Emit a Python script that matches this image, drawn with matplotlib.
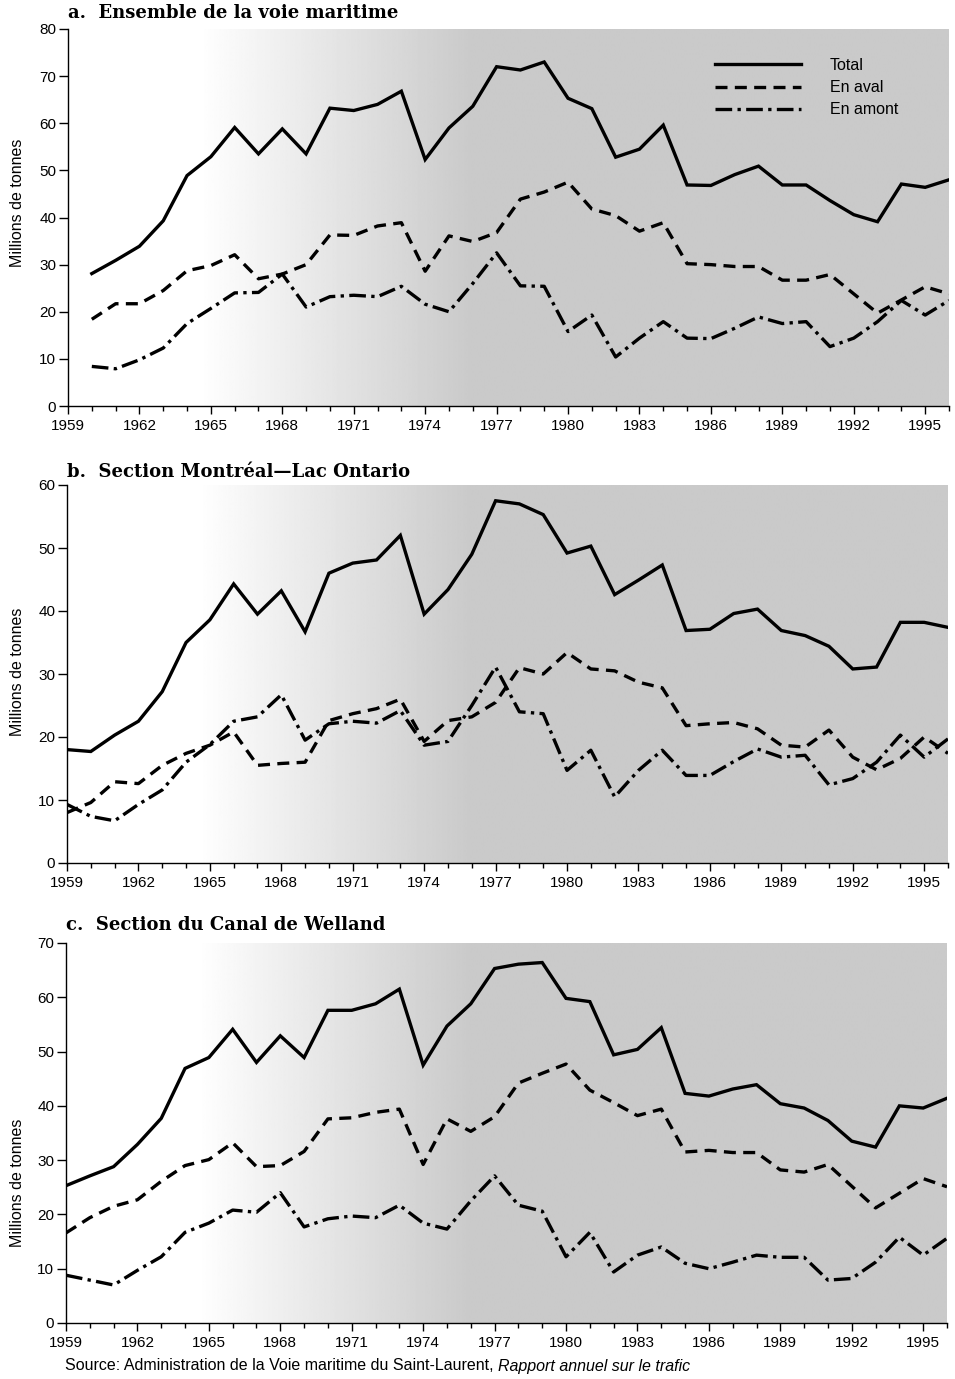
import matplotlib
matplotlib.use('Agg')
import matplotlib.pyplot as plt
import numpy as np
from matplotlib.ticker import FixedLocator, MultipleLocator

plt.rcParams['font.family'] = ['Liberation Sans', 'DejaVu Sans']

# ---------------- data (millions de tonnes) ----------------
years_a = list(range(1960, 1997))
total_a = [28.1, 30.9, 33.9, 39.3, 48.9, 52.9, 59.1, 53.5, 58.8, 53.5, 63.2, 62.7, 64.0, 66.8, 52.3, 59.0, 63.6,
           72.0, 71.3, 73.0, 65.3, 63.1, 52.8, 54.5, 59.6, 46.9, 46.8, 49.1, 50.9, 46.9, 46.9, 43.6, 40.6, 39.1,
           47.1, 46.4, 48.0]
aval_a = [18.4, 21.7, 21.7, 24.5, 28.7, 29.8, 32.1, 27.0, 28.0, 30.0, 36.3, 36.2, 38.2, 38.9, 28.6, 36.1, 34.9,
          36.8, 43.9, 45.4, 47.5, 41.8, 40.4, 37.1, 38.9, 30.2, 30.0, 29.6, 29.6, 26.7, 26.7, 27.9, 23.8, 19.7,
          22.5, 25.3, 23.8]
amont_a = [8.4, 7.9, 9.8, 12.3, 17.5, 20.7, 24.0, 24.1, 28.0, 21.0, 23.2, 23.5, 23.2, 25.4, 21.6, 20.0, 26.0,
           32.5, 25.5, 25.4, 15.8, 19.3, 10.4, 14.4, 17.9, 14.4, 14.3, 16.5, 18.9, 17.5, 17.9, 12.6, 14.4, 17.9,
           22.4, 19.3, 22.4]

years_b = list(range(1959, 1997))
total_b = [18.0, 17.7, 20.3, 22.5, 27.2, 35.0, 38.6, 44.3, 39.5, 43.2, 36.7, 46.0, 47.6, 48.1, 52.0, 39.5, 43.4,
           49.0, 57.5, 57.0, 55.3, 49.2, 50.3, 42.6, 44.9, 47.3, 36.9, 37.1, 39.6, 40.3, 36.9, 36.1, 34.4, 30.8,
           31.1, 38.2, 38.2, 37.4]
aval_b = [8.0, 9.6, 12.9, 12.6, 15.5, 17.4, 18.7, 20.8, 15.5, 15.8, 16.0, 22.6, 23.7, 24.5, 26.0, 19.3, 22.6,
          23.2, 25.5, 31.0, 30.0, 33.4, 30.8, 30.5, 28.7, 27.8, 21.8, 22.1, 22.3, 21.3, 18.7, 18.4, 21.1, 16.8,
          14.8, 16.6, 20.0, 17.4]
amont_b = [9.3, 7.4, 6.7, 9.3, 11.6, 16.0, 18.8, 22.5, 23.2, 26.7, 19.5, 22.1, 22.5, 22.2, 24.2, 18.7, 19.3,
           25.0, 31.1, 24.0, 23.7, 14.7, 17.9, 10.5, 14.7, 17.9, 13.9, 13.9, 16.1, 18.1, 16.8, 17.1, 12.4, 13.4,
           16.0, 20.3, 16.8, 19.7]

years_c = list(range(1959, 1997))
total_c = [25.3, 27.1, 28.8, 32.9, 37.7, 46.9, 48.9, 54.1, 48.0, 52.9, 48.9, 57.6, 57.6, 58.8, 61.5, 47.5, 54.7,
           58.8, 65.3, 66.1, 66.4, 59.8, 59.2, 49.4, 50.4, 54.4, 42.3, 41.8, 43.1, 43.9, 40.4, 39.6, 37.3, 33.5,
           32.4, 40.0, 39.6, 41.4]
aval_c = [16.6, 19.4, 21.5, 22.7, 26.1, 29.0, 30.1, 33.2, 28.8, 29.0, 31.6, 37.6, 37.8, 38.8, 39.4, 29.2, 37.6,
          35.3, 38.0, 44.2, 46.0, 47.7, 42.9, 40.6, 38.2, 39.4, 31.5, 31.8, 31.4, 31.4, 28.2, 27.8, 29.2, 25.2,
          21.2, 23.9, 26.6, 25.1]
amont_c = [8.8, 7.9, 7.0, 9.7, 12.2, 16.7, 18.4, 20.8, 20.4, 24.0, 17.7, 19.2, 19.7, 19.4, 21.7, 18.4, 17.3,
           22.5, 27.1, 21.7, 20.6, 12.2, 16.7, 9.4, 12.5, 14.0, 11.0, 10.0, 11.2, 12.5, 12.1, 12.1, 7.9, 8.2,
           11.2, 15.8, 12.5, 15.6]

series_labels = ['Total', 'En aval', 'En amont']
titles = ['a.  Ensemble de la voie maritime',
          'b.  Section Montréal\u2014Lac Ontario',
          'c.  Section du Canal de Welland']
ymaxes = [80, 60, 70]
xtick_years = list(range(1959, 1996, 3))
ylabel = 'Millions de tonnes'

# ---------------- layout ----------------
W, H = 955, 1379
fig = plt.figure(figsize=(W / 100, H / 100), dpi=100)

# (left px, right px, top px, bottom px)
boxes = [(68, 949, 29, 406), (67, 948, 485, 863), (66, 947, 943, 1323)]
title_y = [13, 472, 925]
ylabel_y = [203, 672, 1183]

lw = 2.4
styles = ['-', (0, (3.6, 2.2)), (0, (5.0, 1.6, 1.0, 1.6))]

data = [(years_a, [total_a, aval_a, amont_a]),
        (years_b, [total_b, aval_b, amont_b]),
        (years_c, [total_c, aval_c, amont_c])]

for i, ((l, r, t, b), (yrs, sers)) in enumerate(zip(boxes, data)):
    ax = fig.add_axes([l / W, 1 - b / H, (r - l) / W, (b - t) / H])
    ymax = ymaxes[i]
    # stippled shading approximated by a grey ramp
    xs = np.linspace(1959, 1996, 600)
    ramp = np.clip((xs - 1964.5) / (1976.0 - 1964.5), 0, 1)
    grey = 1 - 0.21 * ramp
    ax.imshow(grey[np.newaxis, :], cmap='gray', vmin=0, vmax=1, aspect='auto',
              extent=[1959, 1996, 0, ymax], origin='lower', zorder=0, interpolation='bilinear')
    for s, st, lab in zip(sers, styles, series_labels):
        ax.plot(yrs, s, color='black', lw=lw, linestyle=st, label=lab, zorder=3,
                solid_joinstyle='miter', dash_capstyle='butt')
    ax.set_xlim(1959, 1996)
    ax.set_ylim(0, ymax)
    for sp in ['top', 'right']:
        ax.spines[sp].set_visible(False)
    for sp in ['left', 'bottom']:
        ax.spines[sp].set_linewidth(1.0)
    ax.xaxis.set_major_locator(FixedLocator(xtick_years))
    ax.xaxis.set_minor_locator(MultipleLocator(1))
    ax.set_xticklabels([str(y) for y in xtick_years])
    ax.yaxis.set_major_locator(MultipleLocator(10))
    ax.tick_params(axis='x', which='major', direction='out', length=5.5, width=1.0, labelsize=11, pad=4)
    ax.tick_params(axis='x', which='minor', direction='out', length=3.5, width=1.0)
    ax.tick_params(axis='y', which='major', direction='out', length=6.5, width=1.0, labelsize=11, pad=2)
    fig.text(l / W, 1 - title_y[i] / H, titles[i], family='DejaVu Serif', weight='bold',
             fontsize=13, ha='left', va='center')
    fig.text(17 / W, 1 - ylabel_y[i] / H, ylabel, rotation=90, fontsize=11.5, ha='center', va='center')
    if i == 0:
        ax.legend(loc='upper left', bbox_to_anchor=(0.727, 0.94), frameon=False, fontsize=11.5,
                  handlelength=5.4, handletextpad=1.8, labelspacing=0.45, borderaxespad=0)

# source line
src1 = fig.text(65 / W, 1 - 1366 / H, 'Source: Administration de la Voie maritime du Saint-Laurent, ',
                fontsize=11.5, ha='left', va='center')
fig.canvas.draw()
bb = src1.get_window_extent()
fig.text(bb.x1 / W, 1 - 1366 / H, 'Rapport annuel sur le trafic', fontsize=11.5, style='italic',
         ha='left', va='center')

fig.savefig('out.png', dpi=100)
